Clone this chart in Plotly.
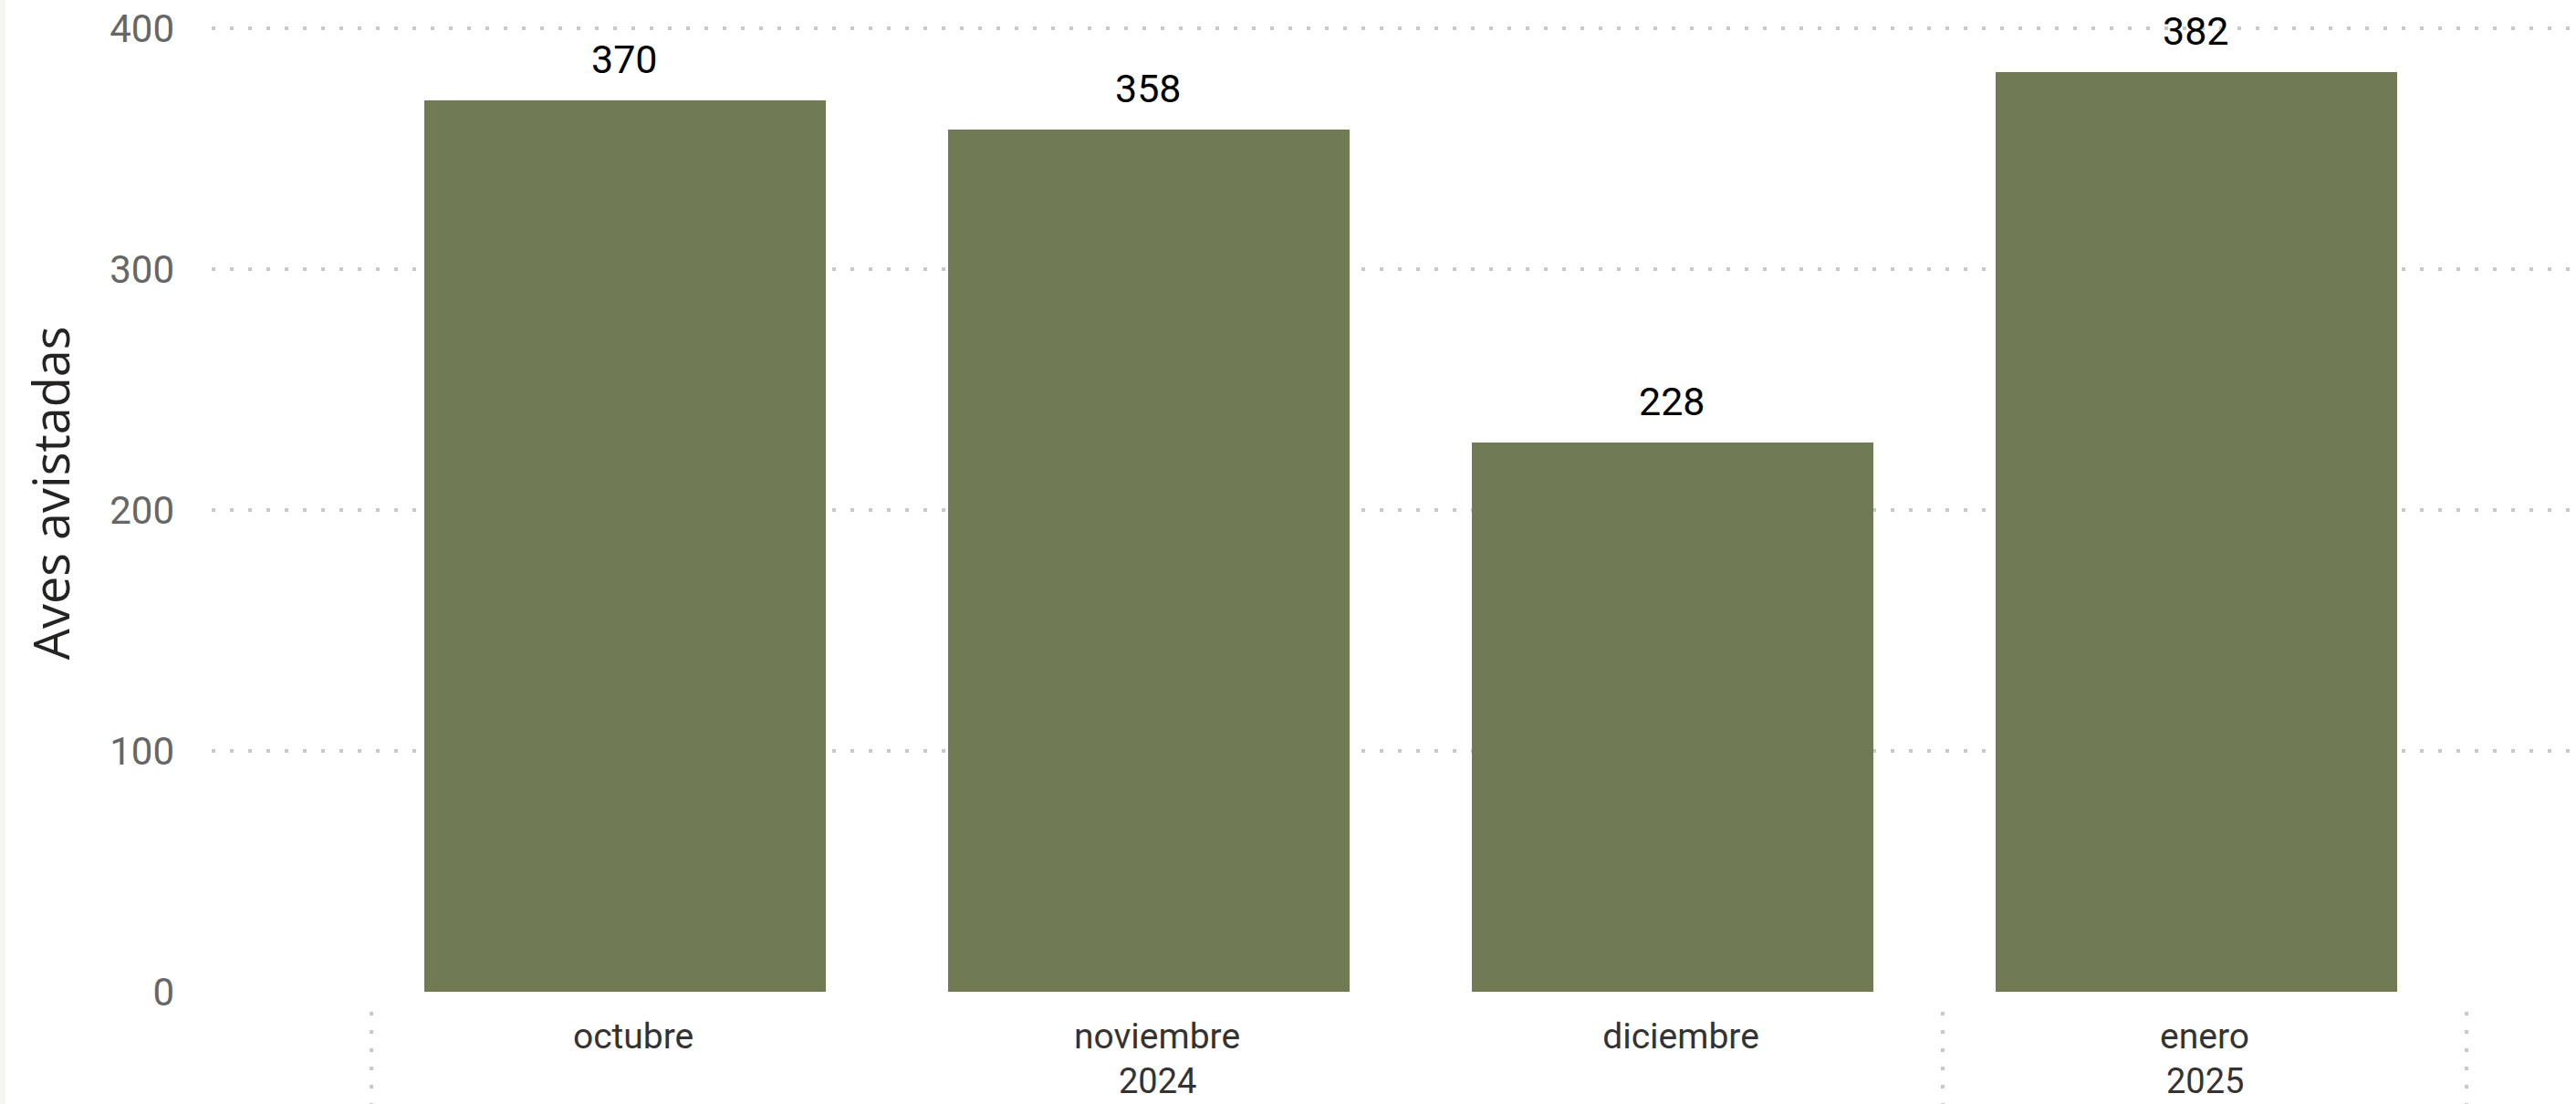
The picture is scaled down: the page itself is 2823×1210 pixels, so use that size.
import plotly.graph_objects as go

# data
months = ["octubre", "noviembre", "diciembre", "enero"]
years = ["2024", "2024", "2024", "2025"]
aves = [370, 358, 228, 382]
y_ticks = [0, 100, 200, 300, 400]

BAR_COLOR = "#717B53"
DOT_COLOR = "#C8C8C8"
DOTS = "4px,16px"

W, H = 2823, 1210
LEFT, BOTTOM = 232, 1087          # pixel of the plot's left edge and of y=0
PX_PER_UNIT = 1056 / 400
Y_MAX = 402                       # a bit above 400 so the top grid line is drawn
TOP = BOTTOM - Y_MAX * PX_PER_UNIT
PLOT_W = W - LEFT
PLOT_H = BOTTOM - TOP


def px_x(px):
    return (px - LEFT) / PLOT_W


def px_y(py):
    return (BOTTOM - py) / PLOT_H


bar_width = 0.766
bar_offset = -0.399

fig = go.Figure()

fig.add_trace(
    go.Bar(
        x=months,
        y=aves,
        width=bar_width,
        offset=bar_offset,
        marker=dict(color=BAR_COLOR, line=dict(width=0)),
        hoverinfo="x+y",
        showlegend=False,
    )
)

annotations = []

# value labels above the bars
for i, v in enumerate(aves):
    annotations.append(
        dict(
            x=i + bar_offset + bar_width / 2,
            y=v,
            xref="x",
            yref="y",
            text=str(v),
            showarrow=False,
            xanchor="center",
            yanchor="bottom",
            yshift=18,
            font=dict(family="Roboto", size=43, color="#000000"),
        )
    )

# year level of the axis and the dotted dividers between year groups
groups = []
for i, yr in enumerate(years):
    if groups and groups[-1][0] == yr:
        groups[-1][2] = i
    else:
        groups.append([yr, i, i])

shapes = []
for yr, first, last in groups:
    annotations.append(
        dict(
            x=(first + last) / 2,
            y=px_y(1185),
            xref="x",
            yref="paper",
            text=yr,
            showarrow=False,
            xanchor="center",
            yanchor="middle",
            font=dict(family="Roboto", size=38, color="#333333"),
        )
    )
    for edge in (first - 0.5, last + 0.5):
        shapes.append(
            dict(
                type="line",
                xref="x",
                yref="paper",
                x0=edge,
                x1=edge,
                y0=px_y(1109),
                y1=px_y(1212),
                line=dict(color=DOT_COLOR, width=4, dash=DOTS),
            )
        )

# thin beige strip on the left edge
shapes.append(
    dict(
        type="rect",
        xref="paper",
        yref="paper",
        x0=px_x(0),
        x1=px_x(6),
        y0=px_y(H),
        y1=px_y(0),
        fillcolor="#F6F5EF",
        line=dict(width=0),
        layer="below",
    )
)

# y axis title
annotations.append(
    dict(
        x=px_x(55),
        y=px_y(540),
        xref="paper",
        yref="paper",
        text="Aves avistadas",
        textangle=-90,
        showarrow=False,
        xanchor="center",
        yanchor="middle",
        font=dict(family="Open Sans", size=54, color="#252423"),
    )
)

fig.update_layout(
    width=W,
    height=H,
    margin=dict(l=LEFT, r=0, t=TOP, b=H - BOTTOM, pad=0),
    plot_bgcolor="white",
    paper_bgcolor="white",
    bargap=0,
    annotations=annotations,
    shapes=shapes,
    xaxis=dict(
        type="category",
        categoryorder="array",
        categoryarray=months,
        range=[-0.805, 3.709],
        showgrid=False,
        zeroline=False,
        showline=False,
        ticks="",
        ticklabelstandoff=22,
        tickfont=dict(family="Roboto", size=39, color="#333333"),
    ),
    yaxis=dict(
        range=[0, Y_MAX],
        tickvals=y_ticks,
        showgrid=True,
        gridcolor=DOT_COLOR,
        gridwidth=4,
        griddash=DOTS,
        zeroline=False,
        showline=False,
        ticks="",
        ticklabelstandoff=40,
        tickfont=dict(family="Roboto", size=42, color="#666666"),
    ),
)

fig.write_html(
    "out.html",
    config={"displayModeBar": False},
    post_script="document.body.style.margin='0';document.body.style.overflow='hidden';",
)
